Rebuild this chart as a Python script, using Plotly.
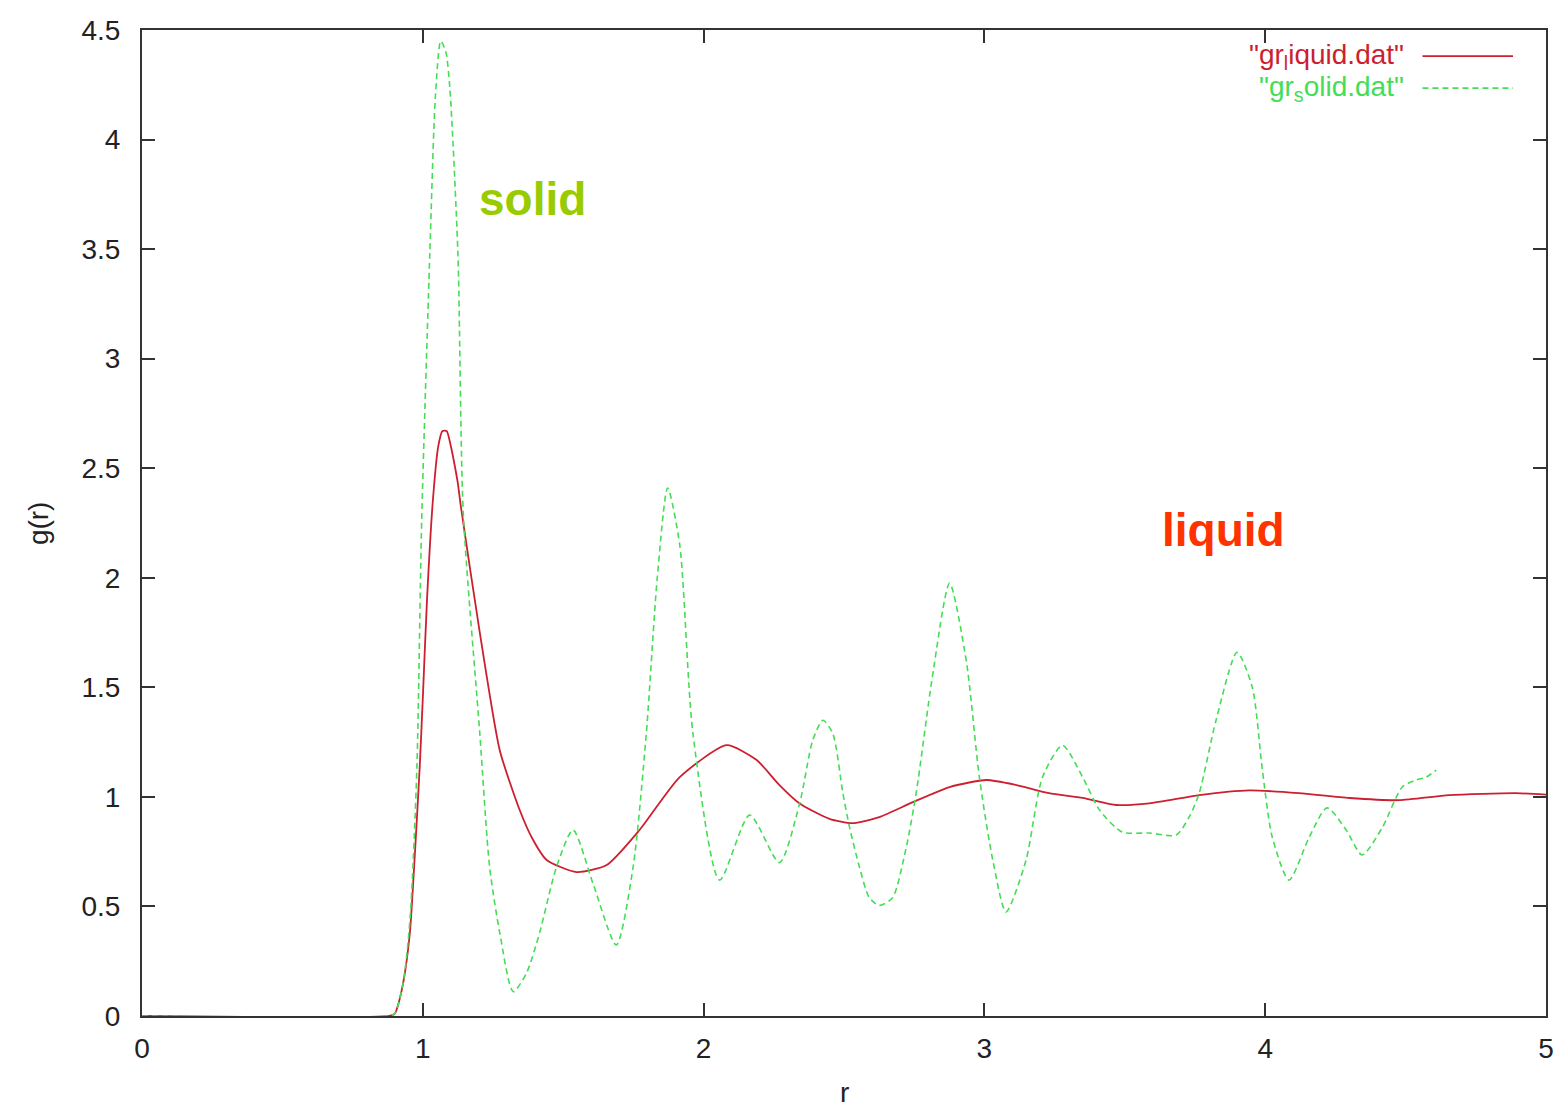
import plotly.graph_objects as go

# --- data ---
r_liquid = [0.0, 0.88, 0.90, 0.907, 0.93, 0.954, 0.97, 0.989, 1.0, 1.015, 1.036, 1.055, 1.07,
            1.085, 1.1, 1.114, 1.125, 1.135, 1.203, 1.274, 1.345, 1.39, 1.441, 1.548, 1.655,
            1.772, 1.915, 2.082, 2.189, 2.27, 2.342, 2.448, 2.53, 2.626, 2.745, 2.876, 3.007,
            3.114, 3.23, 3.35, 3.47, 3.587, 3.765, 3.943, 4.12, 4.3, 4.477, 4.655, 4.893, 5.0]
g_liquid = [0.0, 0.0, 0.01, 0.03, 0.15, 0.38, 0.7, 1.135, 1.45, 1.9, 2.355, 2.6, 2.67,
            2.67, 2.6, 2.51, 2.43, 2.33, 1.75, 1.213, 0.94, 0.81, 0.712, 0.657, 0.689,
            0.849, 1.09, 1.236, 1.168, 1.054, 0.97, 0.9, 0.88, 0.908, 0.976, 1.045, 1.077,
            1.054, 1.017, 0.995, 0.963, 0.97, 1.008, 1.03, 1.017, 0.995, 0.985, 1.008, 1.017, 1.01]

r_solid = [0.0, 0.88, 0.90, 0.93, 0.955, 0.979, 0.996, 1.025, 1.045, 1.064, 1.082, 1.096,
           1.125, 1.144, 1.203, 1.238, 1.274, 1.322, 1.369, 1.416, 1.476, 1.535, 1.606,
           1.689, 1.749, 1.796, 1.835, 1.872, 1.915, 1.962, 2.057, 2.164, 2.27, 2.342,
           2.389, 2.425, 2.46, 2.496, 2.52, 2.555, 2.59, 2.626, 2.673, 2.72, 2.757, 2.815,
           2.876, 2.935, 2.982, 3.03, 3.077, 3.148, 3.207, 3.278, 3.35, 3.41, 3.49, 3.587,
           3.683, 3.73, 3.765, 3.825, 3.9, 3.954, 3.99, 4.025, 4.085, 4.157, 4.22, 4.288,
           4.345, 4.417, 4.488, 4.537, 4.573, 4.609]
g_solid = [0.0, 0.0, 0.01, 0.15, 0.45, 1.135, 2.26, 3.48, 4.2, 4.45, 4.4, 4.24,
           3.48, 2.3, 1.29, 0.68, 0.38, 0.111, 0.195, 0.38, 0.68, 0.849, 0.605,
           0.324, 0.68, 1.29, 2.0, 2.41, 2.15, 1.29, 0.62, 0.917, 0.70, 0.97,
           1.26, 1.35, 1.29, 1.017, 0.86, 0.68, 0.54, 0.505, 0.54, 0.76, 1.017, 1.55,
           1.975, 1.625, 1.09, 0.71, 0.475, 0.71, 1.09, 1.235, 1.09, 0.94, 0.84, 0.835,
           0.826, 0.91, 1.017, 1.35, 1.66, 1.5, 1.122, 0.817, 0.62, 0.817, 0.95, 0.85,
           0.735, 0.86, 1.045, 1.077, 1.09, 1.122]

x_ticks = [0, 1, 2, 3, 4, 5]
y_ticks = [0, 0.5, 1, 1.5, 2, 2.5, 3, 3.5, 4, 4.5]

RED = "#cc1f2f"
GREEN = "#44dd55"
FONT = "Liberation Sans, Arial, Helvetica, sans-serif"
FS = 28

fig = go.Figure()
fig.add_trace(go.Scatter(x=r_liquid, y=g_liquid, mode="lines", name='"gr_liquid.dat"',
                         line=dict(color=RED, width=1.8, shape="spline", smoothing=0.6),
                         showlegend=False))
fig.add_trace(go.Scatter(x=r_solid, y=g_solid, mode="lines", name='"gr_solid.dat"',
                         line=dict(color=GREEN, width=1.6, dash="6px,4px", shape="spline",
                                   smoothing=0.7),
                         showlegend=False))

axis_common = dict(showline=True, linecolor="#333333", linewidth=2, mirror="ticks",
                   ticks="inside", ticklen=13, tickwidth=2, tickcolor="#333333",
                   showgrid=False, zeroline=False,
                   tickfont=dict(family=FONT, size=FS, color="#222222"))

fig.update_xaxes(range=[0, 5], tickvals=x_ticks, ticktext=[str(v) for v in x_ticks],
                 ticklabelstandoff=6, **axis_common)
fig.update_yaxes(range=[0, 4.5], tickvals=y_ticks,
                 ticktext=[("%g" % v) for v in y_ticks], ticklabelstandoff=14, **axis_common)

annotations = [
    dict(text="r", xref="paper", yref="paper", x=0.5, y=-0.078, showarrow=False,
         font=dict(family=FONT, size=FS, color="#222222"), yanchor="middle"),
    dict(text="g(r)", xref="paper", yref="paper", x=-0.074, y=0.5, showarrow=False,
         textangle=-90, font=dict(family=FONT, size=FS, color="#222222"), xanchor="center"),
    dict(text="<b>solid</b>", x=1.391, y=3.73, xref="x", yref="y", showarrow=False,
         font=dict(family=FONT, size=46, color="#99cc00")),
    dict(text="<b>liquid</b>", x=3.85, y=2.22, xref="x", yref="y", showarrow=False,
         font=dict(family=FONT, size=46, color="#ff3300")),
    dict(text='"gr<sub>l</sub>iquid.dat"', xref="paper", yref="paper", x=0.9005, y=0.9735,
         xanchor="right", yanchor="middle", showarrow=False,
         font=dict(family=FONT, size=FS, color=RED)),
    dict(text='"gr<sub>s</sub>olid.dat"', xref="paper", yref="paper", x=0.9005, y=0.941,
         xanchor="right", yanchor="middle", showarrow=False,
         font=dict(family=FONT, size=FS, color=GREEN)),
]

shapes = [
    dict(type="line", xref="paper", yref="paper", x0=0.912, x1=0.9765, y0=0.9735, y1=0.9735,
         line=dict(color=RED, width=1.8)),
    dict(type="line", xref="paper", yref="paper", x0=0.912, x1=0.9765, y0=0.941, y1=0.941,
         line=dict(color=GREEN, width=1.6, dash="6px,4px")),
]

fig.update_layout(width=1561, height=1109, margin=dict(l=142, r=7, t=30, b=93),
                  paper_bgcolor="white", plot_bgcolor="white",
                  annotations=annotations, shapes=shapes, showlegend=False)

fig.write_html("out.html", config={"displayModeBar": False},
               post_script="document.body.style.margin='0';document.body.style.overflow='hidden';")
